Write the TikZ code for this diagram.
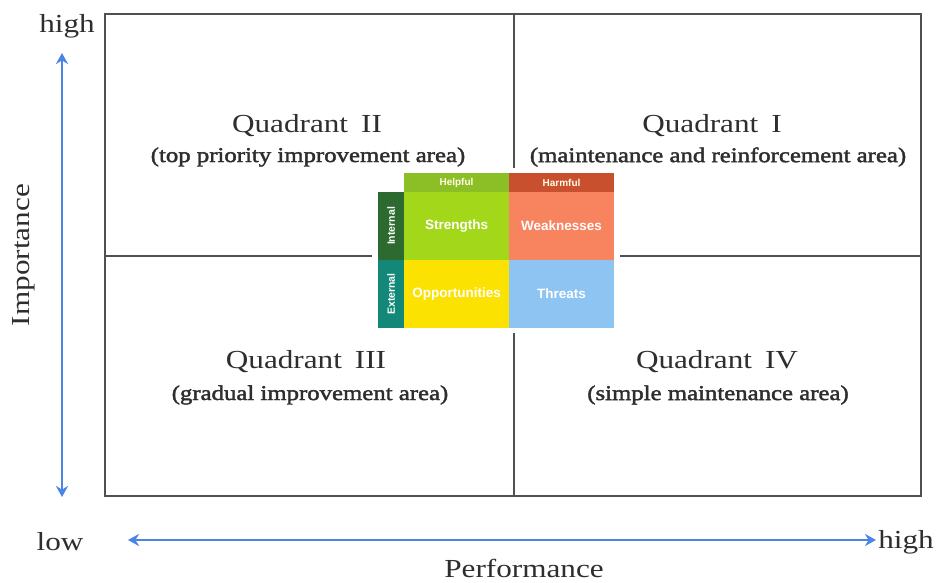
\documentclass[tikz,border=0pt]{standalone}
\usepackage{fontspec}
\setmainfont{Liberation Serif}[FakeStretch=1.2]
\newfontfamily\subfont{Liberation Serif}[FakeStretch=1.18,FakeBold=2]
\newfontfamily\swotfont{Liberation Sans}[BoldFont={Liberation Sans Bold}]
\usetikzlibrary{arrows.meta}
\definecolor{framegray}{HTML}{505050}
\definecolor{textgray}{HTML}{2E2E2E}
\definecolor{axisblue}{HTML}{4A84E6}
\definecolor{helpfulhd}{HTML}{8CBF26}
\definecolor{strengthc}{HTML}{A3D81A}
\definecolor{harmfulhd}{HTML}{C9502E}
\definecolor{weaknessc}{HTML}{F7835F}
\definecolor{opportc}{HTML}{FCE200}
\definecolor{threatc}{HTML}{8EC4F2}
\definecolor{internalc}{HTML}{2D6A2F}
\definecolor{externalc}{HTML}{138878}
\tikzset{
  qtitle/.style={text=textgray,font=\fontsize{26}{28}\selectfont,inner sep=0pt},
  qsub/.style={text=textgray,font=\subfont\fontsize{21}{24}\selectfont,inner sep=0pt},
  axislabel/.style={text=textgray,font=\fontsize{26}{28}\selectfont,inner sep=0pt},
  axisarrow/.style={draw=axisblue,line width=2.8pt,{Stealth[length=11pt,width=12pt]}-{Stealth[length=11pt,width=12pt]}},
  cell/.style={minimum width=105pt,minimum height=68pt,inner sep=0pt,text=white,font=\swotfont\bfseries\fontsize{13.5}{15}\selectfont},
  header/.style={minimum width=105pt,minimum height=19pt,inner sep=0pt,text=white!90!yellow,font=\swotfont\bfseries\fontsize{10}{11}\selectfont},
  side/.style={minimum width=68pt,minimum height=26pt,inner sep=0pt,rotate=90,text=white,font=\swotfont\bfseries\fontsize{10.5}{12}\selectfont},
}
\begin{document}
\begin{tikzpicture}[x=1pt,y=-1pt]
\useasboundingbox[fill=white] (0,0) rectangle (939,583);

% quadrant frame and dividing lines
\draw[framegray,line width=1.8pt] (105,14) rectangle (921,496);
\draw[framegray,line width=1.2pt] (514,14) -- (514,496);
\draw[framegray,line width=1.2pt] (105,256) -- (921,256);

% quadrant labels
\node[qtitle] (q2) at (307,126) {Quadrant\hspace{0.5em}II};
\node[qsub]   (q2s) at (308,157) {(top priority improvement area)};
\node[qtitle] (q1) at (712,126) {Quadrant\hspace{0.5em}I};
\node[qsub]   (q1s) at (718,157) {(maintenance and reinforcement area)};
\node[qtitle] (q3) at (306,362) {Quadrant\hspace{0.5em}III};
\node[qsub]   (q3s) at (310,395) {(gradual improvement area)};
\node[qtitle] (q4) at (717,362) {Quadrant\hspace{0.5em}IV};
\node[qsub]   (q4s) at (718,395) {(simple maintenance area)};

% SWOT matrix in the centre
\fill[white] (372,168) rectangle (620,333);
\node[header,fill=helpfulhd] (helpful) at (456.5,182.5) {Helpful};
\node[header,fill=harmfulhd] (harmful) at (561.5,182.5) {Harmful};
\node[cell,fill=strengthc]   (s) at (456.5,226) {Strengths};
\node[cell,fill=weaknessc]   (w) at (561.5,226) {Weaknesses};
\node[cell,fill=opportc]     (o) at (456.5,294) {Opportunities};
\node[cell,fill=threatc]     (t) at (561.5,294) {Threats};
\node[side,fill=internalc]   (int) at (391,226) {Internal};
\node[side,fill=externalc]   (ext) at (391,294) {External};

% axes
\coordinate (vtop) at (62,53);
\coordinate (vbot) at (62,497);
\coordinate (hleft) at (128,540);
\coordinate (hright) at (876,540);
\draw[axisarrow] (vbot) -- (vtop);
\draw[axisarrow] (hleft) -- (hright);

\node[axislabel] (yhigh) at (67,26) {high};
\node[axislabel,rotate=90] (ylab) at (24,255) {Importance};
\node[axislabel] (xlow) at (60,542) {low};
\node[axislabel] (xhigh) at (906,542) {high};
\node[axislabel] (xlab) at (524,568) {Performance};
\end{tikzpicture}
\end{document}
